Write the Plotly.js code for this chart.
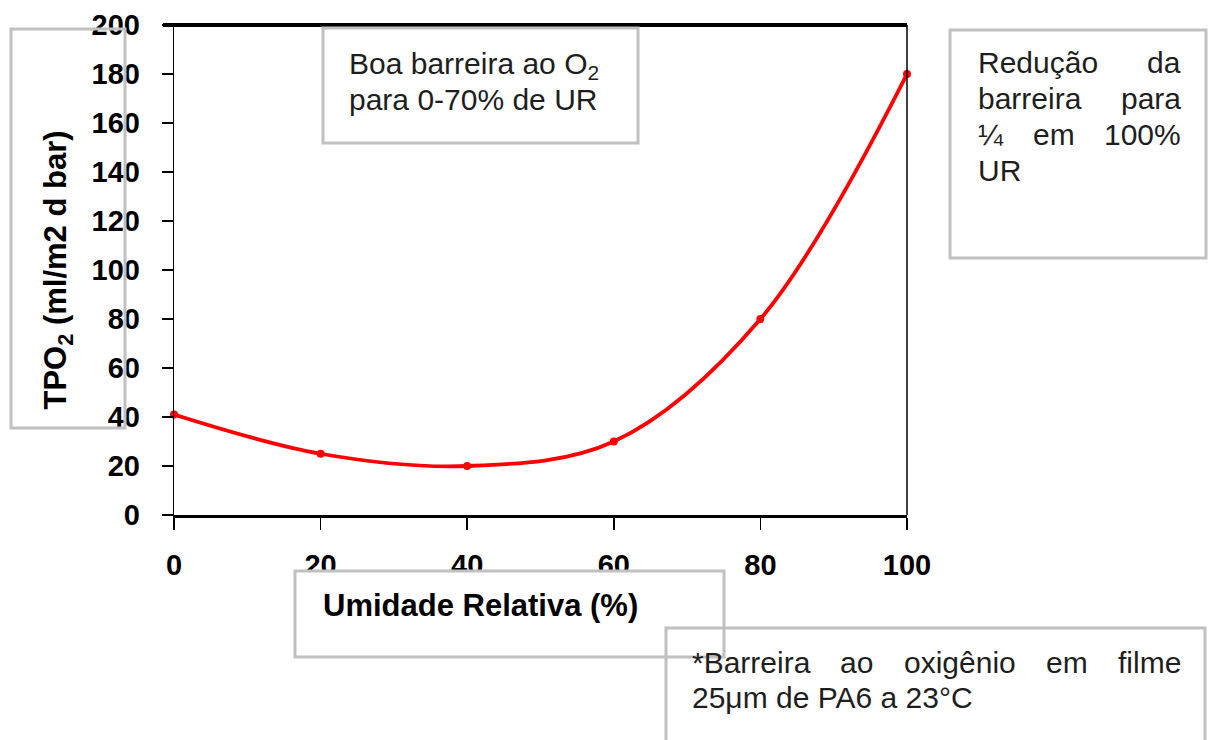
<!DOCTYPE html>
<html>
<head>
<meta charset="utf-8">
<script src="https://cdn.plot.ly/plotly-3.0.1.min.js"></script>
<style>html,body{margin:0;padding:0;background:#fff;}#chart{width:1209px;height:740px;}</style>
</head>
<body>
<div id="chart"></div>
<script>
// ---- data ----
const umidade = [0, 20, 40, 60, 80, 100];
const tpo2 = [41, 25, 20, 30, 80, 180];
const xTicks = [0, 20, 40, 60, 80, 100];
const yTicks = [0, 20, 40, 60, 80, 100, 120, 140, 160, 180, 200];
const xTitle = 'Umidade Relativa (%)';
const yTitle = 'TPO<sub>2</sub> (ml/m2 d bar)';

// ---- layout helpers (pixel -> paper) ----
const W = 1209, H = 740;
const L = 174, R = 907, T = 25, B = 515;
const px = v => (v - L) / (R - L);
const py = v => (B - v) / (B - T);
const FONT = 'Liberation Sans, Arial, Helvetica, sans-serif';
const BOXC = '#c0c0c0';

function box(x0, y0, x1, y1, fill) {
  return {type: 'rect', xref: 'paper', yref: 'paper', layer: 'above',
    x0: px(x0), x1: px(x1), y0: py(y1), y1: py(y0),
    line: {color: BOXC, width: 3}, fillcolor: fill || 'rgba(0,0,0,0)'};
}
function txt(text, x, yc, anchor, opts) {
  opts = opts || {};
  return {xref: 'paper', yref: 'paper', x: px(x), y: py(yc), xanchor: anchor, yanchor: 'middle',
    text: text, showarrow: false, borderpad: 0,
    font: {family: FONT, size: opts.size || 30, color: opts.color || '#1e1e1e', weight: opts.weight || 400}};
}

const trace = {
  x: umidade, y: tpo2, type: 'scatter', mode: 'lines+markers',
  line: {color: '#ff0000', width: 3.8, shape: 'spline', smoothing: 1},
  marker: {color: '#ff0000', size: 8, symbol: 'circle'},
  cliponaxis: false, showlegend: false, hoverinfo: 'x+y'
};

const layout = {
  width: W, height: H,
  margin: {l: L, r: W - R, t: T, b: H - B, pad: 0},
  paper_bgcolor: '#ffffff', plot_bgcolor: '#ffffff',
  showlegend: false,
  xaxis: {
    range: [0, 100], tickvals: xTicks, ticktext: xTicks.map(String),
    showgrid: false, zeroline: false,
    showline: true, linecolor: '#000', linewidth: 2.5,
    ticks: 'outside', ticklen: 12, tickwidth: 1.5, tickcolor: '#000',
    tickfont: {family: FONT, size: 29, color: '#000', weight: 700},
    ticklabelstandoff: 11, fixedrange: true
  },
  yaxis: {
    range: [0, 200], tickvals: yTicks, ticktext: yTicks.map(String),
    showgrid: false, zeroline: false,
    showline: true, linecolor: '#000', linewidth: 1.2,
    ticks: 'outside', ticklen: 11, tickwidth: 2.2, tickcolor: '#000',
    tickfont: {family: FONT, size: 29, color: '#000', weight: 700},
    ticklabelstandoff: 16,
    title: {text: yTitle, standoff: 15, font: {family: FONT, size: 31, color: '#000', weight: 700}},
    fixedrange: true
  },
  shapes: [
    // frame top & right
    {type: 'line', xref: 'paper', yref: 'paper', x0: px(163), x1: 1, y0: 1, y1: 1, line: {color: '#000', width: 4}},
    {type: 'line', xref: 'paper', yref: 'paper', x0: 1, x1: 1, y0: 0, y1: 1, line: {color: '#000', width: 1.5}},
    box(11, 29, 125, 428),
    box(323, 28, 638, 143),
    box(950, 30, 1206, 258),
    box(295, 571, 724, 657, '#ffffff'),
    box(666, 628, 1205, 770)
  ],
  annotations: [
    txt(xTitle, 322, 605, 'left', {size: 31, color: '#000', weight: 700}),
    txt('Boa barreira ao O<sub>2</sub>', 348, 65, 'left'),
    txt('para 0-70% de UR', 348, 100, 'left'),
    txt('Redução', 977, 62, 'left'), txt('da', 1182, 62, 'right'),
    txt('barreira', 977, 98, 'left'), txt('para', 1182, 98, 'right'),
    txt('¼', 977, 134, 'left'), txt('em', 1053.5, 134, 'center'), txt('100%', 1182, 134, 'right'),
    txt('UR', 977, 170, 'left'),
    txt('*Barreira', 691, 662, 'left'), txt('ao', 856, 662, 'center'), txt('oxigênio', 960, 662, 'center'),
    txt('em', 1067, 662, 'center'), txt('filme', 1182, 662, 'right'),
    txt('25μm de PA6 a 23°C', 691, 697, 'left')
  ]
};

Plotly.newPlot('chart', [trace], layout, {displayModeBar: false, staticPlot: true});
</script>
</body>
</html>
